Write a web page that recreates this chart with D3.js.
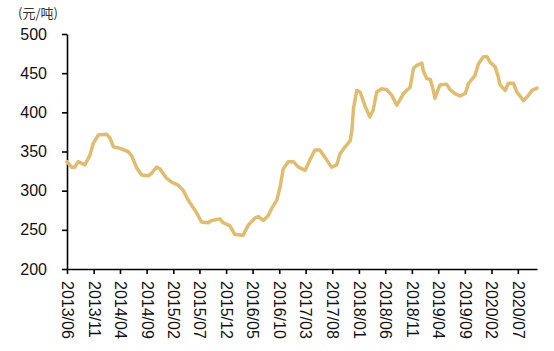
<!DOCTYPE html>
<html><head><meta charset="utf-8">
<script src="https://cdn.jsdelivr.net/npm/d3@7"></script>
<style>body{margin:0;background:#fff}svg{display:block}</style>
</head><body><svg id="c" width="554" height="351"></svg>
<script>
const dates = ["2013-06-01","2013-06-27","2013-07-16","2013-08-04","2013-09-12","2013-10-10","2013-10-29","2013-11-27","2014-01-15","2014-02-03","2014-02-22","2014-04-01","2014-05-17","2014-06-06","2014-07-04","2014-08-03","2014-09-10","2014-09-29","2014-10-28","2014-11-16","2014-12-24","2015-01-22","2015-03-01","2015-03-28","2015-04-27","2015-06-14","2015-07-13","2015-08-20","2015-09-09","2015-10-26","2015-11-15","2015-12-23","2016-01-21","2016-03-08","2016-04-06","2016-05-14","2016-06-03","2016-07-01","2016-07-29","2016-08-20","2016-09-17","2016-10-06","2016-10-24","2016-11-22","2016-12-21","2017-01-19","2017-02-27","2017-03-25","2017-04-24","2017-05-22","2017-07-01","2017-07-28","2017-08-27","2017-09-15","2017-10-14","2017-11-12","2017-11-22","2017-12-01","2017-12-20","2018-01-08","2018-02-07","2018-03-05","2018-03-24","2018-04-13","2018-05-11","2018-06-10","2018-07-08","2018-08-06","2018-09-14","2018-10-22","2018-11-10","2018-11-29","2018-12-28","2019-01-07","2019-01-26","2019-02-15","2019-03-04","2019-03-13","2019-03-23","2019-04-11","2019-05-19","2019-06-08","2019-07-06","2019-08-05","2019-09-03","2019-09-22","2019-10-29","2019-11-18","2019-12-16","2020-01-06","2020-01-24","2020-02-22","2020-03-11","2020-03-21","2020-04-19","2020-05-08","2020-06-06","2020-06-25","2020-08-03","2020-09-01","2020-09-20","2020-10-19"];
const prices = [337,330,330,337,333,345,360,371,372,367,356,354,350,345,330,320,319,322,330,328,316,311,307,301,288,272,260,259,262,264,259,255,244,243,256,265,267,262,268,278,288,305,328,337,337,330,326,339,352,352,339,330,333,347,356,364,377,405,428,426,407,394,403,426,430,429,422,409,424,432,456,460,463,452,443,442,428,418,424,435,436,429,424,421,424,437,447,462,471,471,464,458,445,435,428,437,437,426,415,422,428,431];
const xTickLabels = ["2013/06","2013/11","2014/04","2014/09","2015/02","2015/07","2015/12","2016/05","2016/10","2017/03","2017/08","2018/01","2018/06","2018/11","2019/04","2019/09","2020/02","2020/07"];
const yTicks = [200,250,300,350,400,450,500];
const unitLabel = "(元/吨)";

const parse = d3.timeParse("%Y-%m-%d");
const parseTick = d3.timeParse("%Y/%m");
const fmt = d3.timeFormat("%Y/%m");
const data = dates.map((d,i)=>({date:parse(d), v:prices[i]}));

const svg = d3.select("#c");
const x = d3.scaleTime().domain([data[0].date, data[data.length-1].date]).range([67,537]);
const y = d3.scaleLinear().domain([200,500]).range([269,34]);

const font = "'Liberation Sans', Arial, sans-serif";

// y axis
const gy = svg.append("g").attr("transform","translate(67,0)")
  .call(d3.axisLeft(y).tickValues(yTicks).tickSize(5).tickPadding(15).tickSizeOuter(0));
gy.selectAll("text").attr("font-family",font).attr("font-size",16).attr("fill","#111");
gy.selectAll("line,path").attr("stroke","#000").attr("stroke-width",1.6);

// x axis
const gx = svg.append("g").attr("transform","translate(0,269)")
  .call(d3.axisBottom(x).tickValues(xTickLabels.map(parseTick)).tickFormat(fmt).tickSize(5).tickSizeOuter(0));
gx.selectAll("line,path").attr("stroke","#000").attr("stroke-width",1.6);
gx.selectAll("text").attr("font-family",font).attr("font-size",16).attr("fill","#111")
  .attr("transform","rotate(90)").attr("text-anchor","start")
  .attr("x",12).attr("y",0).attr("dy","0.35em");

// unit label
svg.append("text").attr("x",18).attr("y",18).attr("font-family","'Noto Sans CJK SC', sans-serif")
  .attr("font-size",13).attr("fill","#333").text(unitLabel);

// line
svg.append("path").datum(data)
  .attr("fill","none").attr("stroke","#E2BC6E").attr("stroke-width",3.5)
  .attr("stroke-linejoin","round").attr("stroke-linecap","round")
  .attr("d", d3.line().x(d=>x(d.date)).y(d=>y(d.v)));
</script></body></html>
